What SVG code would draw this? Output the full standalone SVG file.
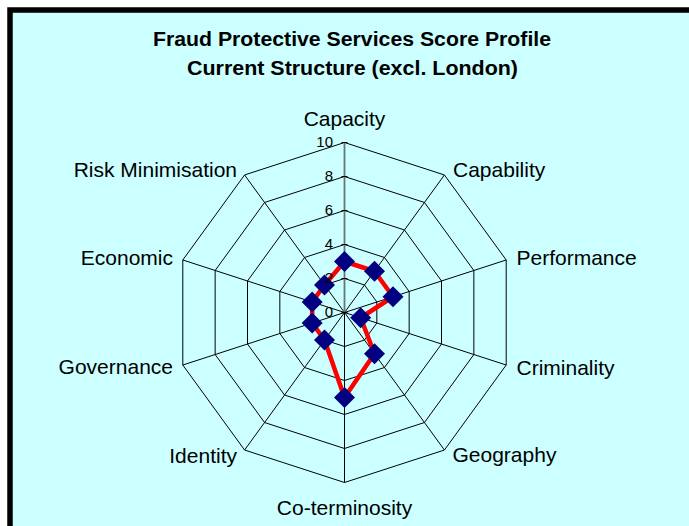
<svg xmlns="http://www.w3.org/2000/svg" width="689" height="526" viewBox="0 0 689 526">
<style>
.t{font-family:"Liberation Sans",Arial,sans-serif;font-weight:bold;font-size:20px;fill:#000;text-anchor:middle}
.lbl{font-family:"Liberation Sans",Arial,sans-serif;font-size:21px;fill:#000}
.num{font-family:"Liberation Sans",Arial,sans-serif;font-size:15px;fill:#000;text-anchor:end}
.grid{fill:none;stroke:#000;stroke-width:1}
.spoke{stroke:#000;stroke-width:1}
.data{fill:none;stroke:#ff0000;stroke-width:4.5;stroke-linejoin:round}
.mk{fill:#000080}
</style>
<defs>
<path id="dia" d="M0,-10.5 L10.5,0 L0,10.5 L-10.5,0 Z" class="mk"/>
</defs>
<rect x="0" y="0" width="689" height="526" fill="#ffffff"/>
<rect x="10" y="10" width="700" height="540" fill="#ccffff" stroke="#000" stroke-width="5.5"/>
<g id="title">
<text class="t" x="352" y="46" textLength="398" lengthAdjust="spacingAndGlyphs">Fraud Protective Services Score Profile</text>
<text class="t" x="352.5" y="74.5" textLength="331" lengthAdjust="spacingAndGlyphs">Current Structure (excl. London)</text>
</g>
<g id="grid">
<polygon class="grid" points="344.5,142.5 444.43,174.97 506.19,259.97 506.19,365.03 444.43,450.03 344.5,482.5 244.57,450.03 182.81,365.03 182.81,259.97 244.57,174.97"/>
<polygon class="grid" points="344.5,176.5 424.44,202.48 473.85,270.48 473.85,354.52 424.44,422.52 344.5,448.5 264.56,422.52 215.15,354.52 215.15,270.48 264.56,202.48"/>
<polygon class="grid" points="344.5,210.5 404.46,229.98 441.51,280.98 441.51,344.02 404.46,395.02 344.5,414.5 284.54,395.02 247.49,344.02 247.49,280.98 284.54,229.98"/>
<polygon class="grid" points="344.5,244.5 384.47,257.49 409.17,291.49 409.17,333.51 384.47,367.51 344.5,380.5 304.53,367.51 279.83,333.51 279.83,291.49 304.53,257.49"/>
<polygon class="grid" points="344.5,278.5 364.49,284.99 376.84,301.99 376.84,323.01 364.49,340.01 344.5,346.5 324.51,340.01 312.16,323.01 312.16,301.99 324.51,284.99"/>
</g>
<g id="connectors">
<line class="spoke" x1="344.5" y1="312.5" x2="444.43" y2="174.97"/>
<line class="spoke" x1="344.5" y1="312.5" x2="506.19" y2="259.97"/>
<line class="spoke" x1="344.5" y1="312.5" x2="506.19" y2="365.03"/>
<line class="spoke" x1="344.5" y1="312.5" x2="444.43" y2="450.03"/>
<line class="spoke" x1="344.5" y1="312.5" x2="344.5" y2="482.5"/>
<line class="spoke" x1="344.5" y1="312.5" x2="244.57" y2="450.03"/>
<line class="spoke" x1="344.5" y1="312.5" x2="182.81" y2="365.03"/>
<line class="spoke" x1="344.5" y1="312.5" x2="182.81" y2="259.97"/>
<line class="spoke" x1="344.5" y1="312.5" x2="244.57" y2="174.97"/>
<line x1="344.5" y1="312.5" x2="344.5" y2="142.5" stroke="#667777" stroke-width="1.8"/>
<path d="M341.5,142.5h6M341.5,176.5h6M341.5,210.5h6M341.5,244.5h6M341.5,278.5h6M341.5,312.5h6" stroke="#000" stroke-width="1.2"/>
</g>
<g id="series">
<polygon class="data" points="344.5,261.5 374.48,271.24 393.01,296.74 360.67,317.75 374.48,353.76 344.5,397.5 324.51,340.01 312.16,323.01 312.16,301.99 324.51,284.99"/>
<use href="#dia" x="344.5" y="261.5"/>
<use href="#dia" x="374.48" y="271.24"/>
<use href="#dia" x="393.01" y="296.74"/>
<use href="#dia" x="360.67" y="317.75"/>
<use href="#dia" x="374.48" y="353.76"/>
<use href="#dia" x="344.5" y="397.5"/>
<use href="#dia" x="324.51" y="340.01"/>
<use href="#dia" x="312.16" y="323.01"/>
<use href="#dia" x="312.16" y="301.99"/>
<use href="#dia" x="324.51" y="284.99"/>
</g>
<g id="axis-values">
<text class="num" x="333" y="147">10</text>
<text class="num" x="333" y="181">8</text>
<text class="num" x="333" y="215">6</text>
<text class="num" x="333" y="249">4</text>
<text class="num" x="333" y="283">2</text>
<text class="num" x="333" y="317">0</text>
</g>
<g id="n-capacity"><text class="lbl" x="344.5" y="126" text-anchor="middle">Capacity</text></g>
<g id="n-capability"><text class="lbl" x="453" y="177" text-anchor="start">Capability</text></g>
<g id="n-performance"><text class="lbl" x="516.5" y="265" text-anchor="start">Performance</text></g>
<g id="n-criminality"><text class="lbl" x="516.5" y="375" text-anchor="start">Criminality</text></g>
<g id="n-geography"><text class="lbl" x="452.5" y="462" text-anchor="start">Geography</text></g>
<g id="n-coterminosity"><text class="lbl" x="344.5" y="515" text-anchor="middle">Co-terminosity</text></g>
<g id="n-identity"><text class="lbl" x="237" y="463" text-anchor="end">Identity</text></g>
<g id="n-governance"><text class="lbl" x="173" y="373.5" text-anchor="end">Governance</text></g>
<g id="n-economic"><text class="lbl" x="173" y="265" text-anchor="end">Economic</text></g>
<g id="n-risk"><text class="lbl" x="237" y="177" text-anchor="end">Risk Minimisation</text></g>
</svg>
